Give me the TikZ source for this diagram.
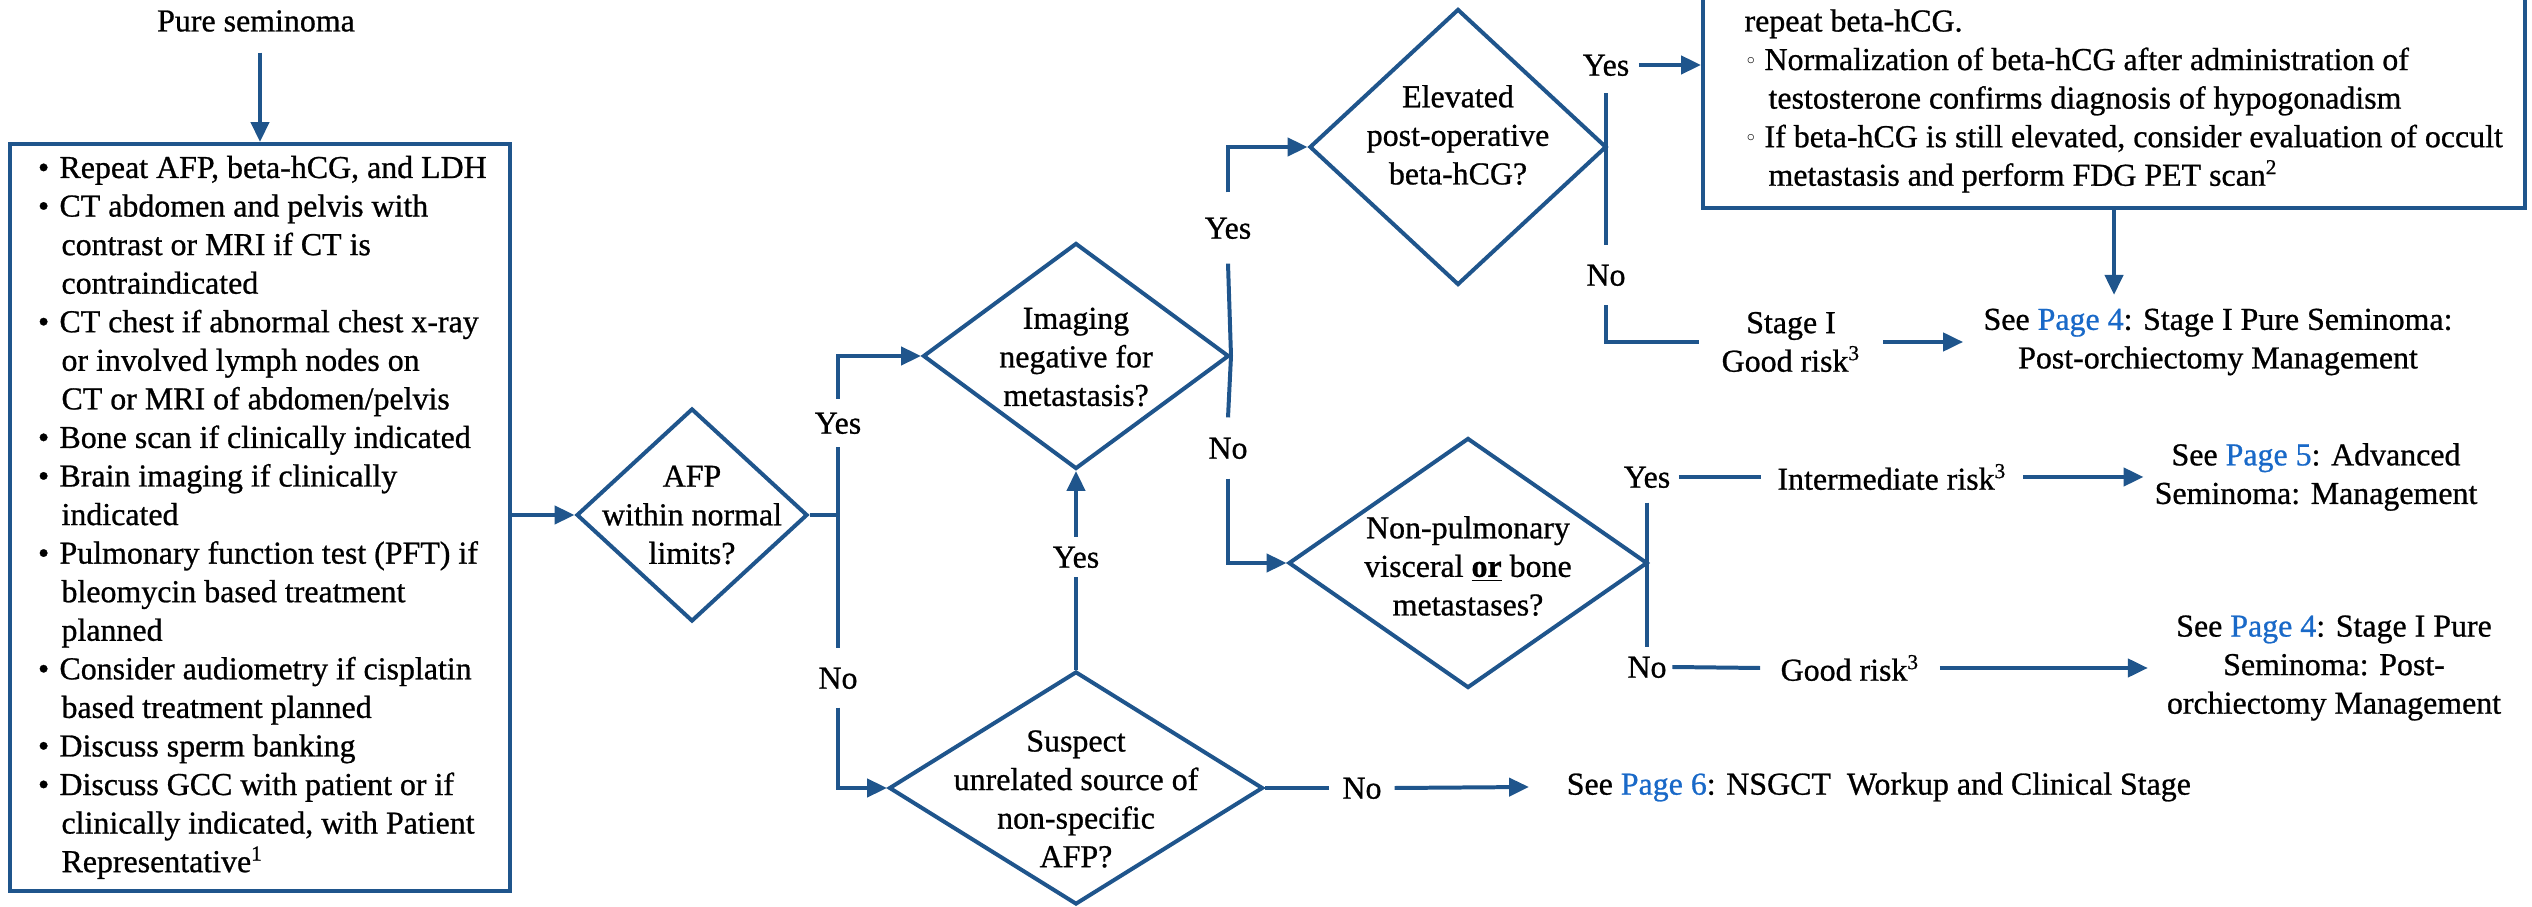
\documentclass[tikz,border=0pt]{standalone}
\usepackage{fontspec}
\setmainfont{Liberation Serif}[FakeBold=0.8]
\newfontfamily\symfont{DejaVu Sans}
\usetikzlibrary{shapes.geometric,arrows.meta,fit}
\definecolor{flow}{RGB}{31,85,140}
\definecolor{link}{RGB}{25,105,200}
\newlength\px
\setlength\px{0.376pt}
\newcommand\pg[1]{\textcolor{link}{Page #1}}
% list helpers: main bullet, hanging indent, sub-bullet, sub indent
\newcommand\lbul{\makebox[21.5\px][l]{•}}
\newcommand\lind{\hspace*{23.5\px}}
\newcommand\sbul{\makebox[20\px][l]{\raisebox{0.5pt}{\symfont\fontsize{8pt}{8pt}\selectfont ◦}}}
\newcommand\sind{\hspace*{24\px}}

\begin{document}
\begin{tikzpicture}[x=0.376pt,y=-0.376pt,
  font=\fontsize{12pt}{14.5pt}\selectfont,
  flowline/.style={draw=flow, line width=1.5pt},
  arr/.style={flowline, -{Triangle[length=7.5pt,width=6.8pt]}},
  dia/.style 2 args={diamond, draw=flow, line width=1.5pt, inner sep=0pt,
    minimum width=#1*0.376pt, minimum height=#2*0.376pt},
  txt/.style={inner sep=0pt, align=center},
  lab/.style={inner xsep=4pt, inner ysep=#1, text height=9.5pt, text depth=1.5pt},
  lab/.default=3pt,
  boxs/.style={draw=flow, line width=1.5pt, inner sep=0pt},
]
\useasboundingbox (0,0) rectangle (2532,907);
\clip (0,0) rectangle (2532,907);

% ---- work-up box ----
\node[txt] (pure) at (256,21) {Pure seminoma};
\coordinate (b1nw) at (10,144);
\coordinate (b1se) at (510,891);
\node[boxs, fit=(b1nw)(b1se)] (box1) {};
\node[anchor=base west, inner sep=0pt] (list1) at (37.5,178) {%
\begin{minipage}[t]{470\px}
\lbul Repeat AFP, beta-hCG, and LDH\\
\lbul CT abdomen and pelvis with\\
\lind contrast or MRI if CT is\\
\lind contraindicated\\
\lbul CT chest if abnormal chest x-ray\\
\lind or involved lymph nodes on\\
\lind CT or MRI of abdomen/pelvis\\
\lbul Bone scan if clinically indicated\\
\lbul Brain imaging if clinically\\
\lind indicated\\
\lbul Pulmonary function test (PFT) if\\
\lind bleomycin based treatment\\
\lind planned\\
\lbul Consider audiometry if cisplatin\\
\lind based treatment planned\\
\lbul Discuss sperm banking\\
\lbul Discuss GCC with patient or if\\
\lind clinically indicated, with Patient\\
\lind Representative\textsuperscript{1}
\end{minipage}};

% ---- hypogonadism box ----
\coordinate (b2nw) at (1703,-60);
\coordinate (b2se) at (2525,208);
\node[boxs, fit=(b2nw)(b2se)] (box2) {};
\node[anchor=base west, inner sep=0pt] (list2) at (1744,31.5) {%
\begin{minipage}[t]{800\px}
repeat beta-hCG.\\
\sbul Normalization of beta-hCG after administration of\\
\sind testosterone confirms diagnosis of hypogonadism\\
\sbul If beta-hCG is still elevated, consider evaluation of occult\\
\sind metastasis and perform FDG PET scan\textsuperscript{2}
\end{minipage}};

% ---- decisions ----
\node[dia={231}{213}] (afp) at (692,515) {};
\node[txt] (afpt) at (692,515) {AFP\\within normal\\limits?};
\node[dia={306}{226}] (img) at (1076,356) {};
\node[txt] (imgt) at (1076,357) {Imaging\\negative for\\metastasis?};
\node[dia={374}{233}] (sus) at (1076,788) {};
\node[txt] (sust) at (1076,799) {Suspect\\unrelated source of\\non-specific\\AFP?};
\node[dia={297}{276}] (elev) at (1458,147) {};
\node[txt] (elevt) at (1458,135) {Elevated\\post-operative\\beta-hCG?};
\node[dia={359}{250}] (nonp) at (1468,563) {};
\node[txt] (nonpt) at (1468,566) {Non-pulmonary\\visceral \underline{\textbf{or}} bone\\metastases?};

% ---- branch labels ----
\node[lab=3.5pt] (yA) at (838,423) {Yes};
\node[lab=5.4pt] (nA) at (838,678) {No};
\node[lab=7.7pt] (yB) at (1228,228) {Yes};
\node[lab=5.8pt] (nB) at (1228,448) {No};
\node[lab=2pt] (yC) at (1076,557) {Yes};
\node[lab=2pt, inner xsep=4.7pt] (nS) at (1362,788) {No};
\node[lab=5pt, inner xsep=3.4pt] (yE) at (1606,65) {Yes};
\node[lab=5.6pt] (nE) at (1606,275) {No};
\node[lab=3.9pt, inner xsep=3pt] (yN) at (1647,477) {Yes};
\node[lab=2pt, inner xsep=2pt] (nN) at (1647,667) {No};

% ---- outcomes ----
\node[txt, inner xsep=8.3pt] (stage) at (1791,342) {Stage I\\Good risk\textsuperscript{3}};
\node[txt, inner xsep=7.5pt] (p4a) at (2218,342) {See \pg{4}: Stage I Pure Seminoma:\\Post-orchiectomy Management};
\node[txt, inner xsep=6pt] (inter) at (1892,477) {Intermediate risk\textsuperscript{3}};
\node[txt, inner xsep=4pt] (p5) at (2316,477) {See \pg{5}: Advanced\\Seminoma: Management};
\node[txt, inner xsep=7.5pt] (good) at (1850,668) {Good risk\textsuperscript{3}};
\node[txt, inner xsep=7pt] (p4b) at (2334,668) {See \pg{4}: Stage I Pure\\Seminoma: Post-\\orchiectomy Management};
\node[txt, anchor=west, inner xsep=14pt] (p6) at (1529,787) {See \pg{6}: NSGCT\ \ Workup and Clinical Stage};

% ---- connectors ----
\draw[arr, shorten <=7.7pt] (pure.south -| box1.north) -- (box1.north);
\draw[arr] (box1.east |- afp.west) -- (afp.west);
\coordinate (jA) at (838,515);
\draw[flowline] (afp.east) -- (jA);
\draw[flowline] (jA) -- (yA.south);
\draw[arr] (yA.north) |- (img.west);
\draw[flowline] (jA) -- (nA.north);
\draw[arr] (nA.south) |- (sus.west);
\draw[flowline] (img.east) -- (yB.south);
\draw[arr] (yB.north) |- (elev.west);
\draw[flowline] (img.east) -- (nB.north);
\draw[arr] (nB.south) |- (nonp.west);
\draw[flowline] (sus.north) -- (yC.south);
\draw[arr] (yC.north) -- (img.south);
\draw[flowline] (sus.east) -- (nS.west);
\draw[arr] (nS.east) -- (p6.west);
\draw[flowline] (yE.south) -- (nE.north);
\draw[arr] (yE.east) -- (yE.east -| box2.west);
\draw[flowline] (nE.south) |- (stage.west);
\draw[arr] (stage.east) -- (p4a.west);
\draw[arr, shorten >=5pt] (box2.south) -- (box2.south |- p4a.north);
\draw[flowline] (yN.south) -- (nN.north);
\draw[flowline] (yN.east) -- (inter.west);
\draw[arr] (inter.east) -- (p5.west);
\draw[flowline] (nN.east) -- (good.west);
\draw[arr] (good.east) -- (p4b.west);
\end{tikzpicture}
\end{document}
